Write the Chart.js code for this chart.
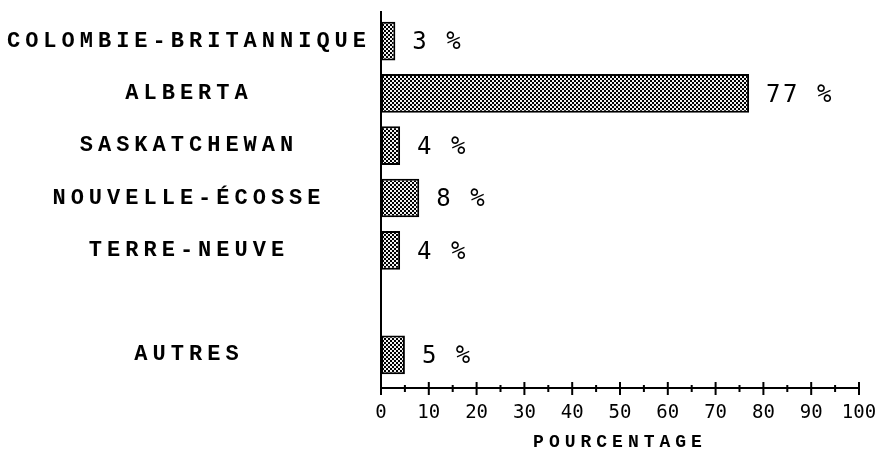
<!DOCTYPE html>
<html>
<head>
<meta charset="utf-8">
<script src="https://cdn.jsdelivr.net/npm/chart.js@4"></script>
<style>html,body{margin:0;padding:0;background:#fff}</style>
</head>
<body>
<canvas id="myChart" width="881" height="457"></canvas>
<script>
const provinces = ['COLOMBIE-BRITANNIQUE', 'ALBERTA', 'SASKATCHEWAN', 'NOUVELLE-ÉCOSSE', 'TERRE-NEUVE', '', 'AUTRES'];
const shares = [3, 77, 4, 8, 4, null, 5];
const xTickLabels = ['0', '10', '20', '30', '40', '50', '60', '70', '80', '90', '100'];

// grey dotted fill like the old typewriter hatching
function dotPattern() {
    const c = document.createElement('canvas');
    c.width = 4; c.height = 4;
    const g = c.getContext('2d');
    g.fillStyle = '#000';
    g.fillRect(0, 0, 4, 4);
    g.fillStyle = '#f2f2f2';
    g.fillRect(0, 0, 2, 2);
    g.fillRect(2, 2, 2, 2);
    return g.createPattern(c, 'repeat');
}

const ctx = document.getElementById('myChart').getContext('2d');

const typewriter = {
    id: 'typewriter',
    beforeUpdate(chart) { chart.ctx.letterSpacing = '5px'; },
    beforeDraw(chart) { chart.ctx.letterSpacing = '5px'; },
    afterDatasetsDraw(chart) {
        const c = chart.ctx;
        const xs = chart.scales.x;
        const area = chart.chartArea;
        const axisY = area.bottom + 7;

        c.save();
        // value labels
        c.letterSpacing = '2.5px';
        c.font = '24px "DejaVu Sans Mono"';
        c.fillStyle = '#000';
        c.textBaseline = 'middle';
        c.textAlign = 'left';
        chart.getDatasetMeta(0).data.forEach((bar, i) => {
            if (shares[i] == null) return;
            c.fillText(shares[i] + ' %', bar.x + 17, bar.y + 2);
        });

        // axis lines and tick marks
        c.strokeStyle = '#000';
        c.lineWidth = 2;
        c.beginPath();
        c.moveTo(area.left, area.top - 4);
        c.lineTo(area.left, axisY);
        c.lineTo(xs.getPixelForValue(100), axisY);
        for (let v = 0; v <= 100; v += 5) {
            const px = xs.getPixelForValue(v);
            const major = v % 10 === 0;
            c.moveTo(px, axisY - (major ? 6 : 3));
            c.lineTo(px, axisY + (major ? 7 : 4));
        }
        c.stroke();
        c.restore();
        c.letterSpacing = '0px';
    }
};

const config = {
    type: 'bar',
    data: {
        labels: provinces,
        datasets: [{
            data: shares,
            backgroundColor: dotPattern(),
            borderColor: '#000',
            borderWidth: 2,
            borderSkipped: false,
            barPercentage: 0.74,
            categoryPercentage: 1
        }]
    },
    options: {
        indexAxis: 'y',
        responsive: false,
        animation: false,
        layout: { padding: { top: 15, right: 22, left: 0, bottom: 0 } },
        plugins: {
            legend: { display: false },
            tooltip: { enabled: false }
        },
        scales: {
            y: {
                grid: { display: false, drawTicks: false },
                border: { display: false },
                afterFit(s) { s.width = 381; s.paddingTop = 0; s.paddingBottom = 0; },
                ticks: {
                    crossAlign: 'center',
                    padding: 10,
                    color: '#000',
                    font: { family: 'Liberation Mono', size: 22, weight: 'bold' }
                }
            },
            x: {
                min: 0,
                max: 100,
                grid: { display: false, drawTicks: false },
                border: { display: false },
                afterFit(s) { s.height = 76; s.paddingLeft = 0; s.paddingRight = 0; },
                ticks: {
                    stepSize: 10,
                    padding: 21,
                    z: 1,
                    maxRotation: 0,
                    autoSkip: false,
                    color: '#000',
                    font: { family: 'DejaVu Sans Mono', size: 19 },
                    callback: (v) => xTickLabels[v / 10]
                },
                title: {
                    display: true,
                    text: 'POURCENTAGE',
                    color: '#000',
                    padding: { top: 0, bottom: 4 },
                    font: { family: 'Liberation Mono', size: 18, weight: 'bold' }
                }
            }
        }
    },
    plugins: [typewriter]
};

const myChart = new Chart(ctx, config);
</script>
</body>
</html>
